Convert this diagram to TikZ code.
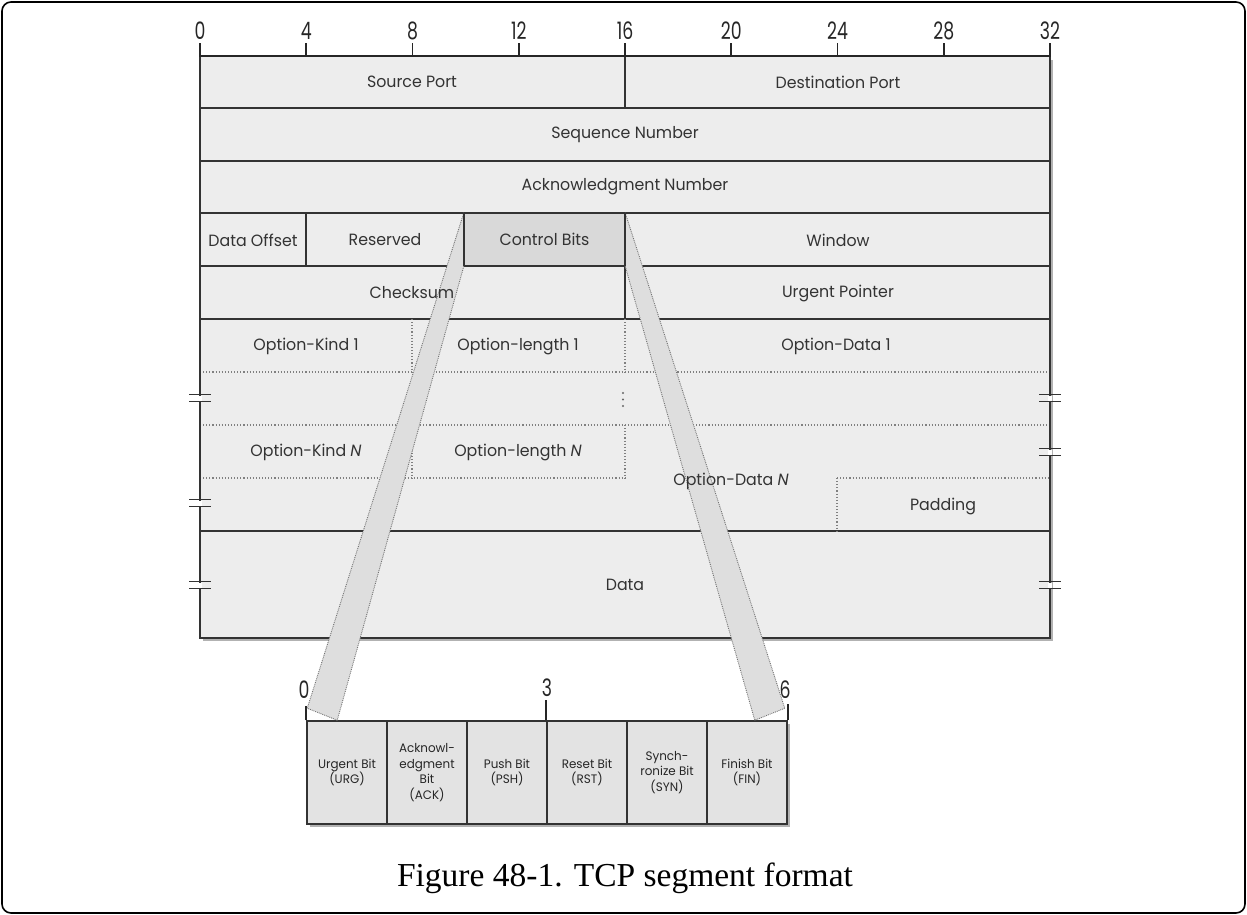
\documentclass[tikz,border=0pt]{standalone}
\usepackage{fontspec}
\setmainfont{Liberation Serif}
\newfontfamily\labf[FakeStretch=0.97]{Poppins}
\newfontfamily\numf[FakeStretch=0.72]{Poppins}
\usetikzlibrary{calc}
\begin{document}
\begin{tikzpicture}[x=1pt,y=-1pt,
  tline/.style={draw=black!80, line width=1.7pt},
  dline/.style={draw=black!50, dotted, line width=1.1pt},
  lab/.style={font=\labf\fontsize{16.3}{18}\selectfont, text=black!80, inner sep=0pt},
  num/.style={font=\numf\fontsize{24}{24}\selectfont, text=black!85, inner sep=0pt},
  small/.style={font=\labf\fontsize{12.3}{15.5}\selectfont, text=black!85, align=center, inner sep=0pt},
  band/.style={fill=black!13, draw=black!55, densely dotted, line width=0.9pt},
  bcell/.style={draw=black!80, line width=1.5pt, fill=black!11, minimum width=80pt, minimum height=103pt, inner sep=0pt},
  brk/.style={draw=black!80, line width=1.8pt},
]
\useasboundingbox (0,0) rectangle (1247,915);
\draw[line width=1.6pt, rounded corners=9pt] (2,2) rectangle (1245,913);

% ---- table background
\fill[black!30] (203,60) rectangle (1053,641);
\fill[black!7] (200,56) rectangle (1050,638);
\node[fill=black!15, minimum width=161pt, minimum height=53pt, inner sep=0pt] (cb) at (544.5,239.5) {};

% solid row lines
\foreach \y in {108,161,213,266,319,531} \draw[tline] (200,\y) -- (1050,\y);
\draw[tline] (625,56) -- (625,108);
\draw[tline] (306,213) -- (306,266);
\draw[tline] (464,213) -- (464,266);
\draw[tline] (625,213) -- (625,319);

% dotted option lines
\draw[dline] (412,319) -- (412,372);
\draw[dline] (625,319) -- (625,372);
\draw[dline] (200,372) -- (1050,372);
\draw[dline] (200,425) -- (1050,425);
\draw[dline] (412,425) -- (412,478);
\draw[dline] (625,425) -- (625,478);
\draw[dline] (200,478) -- (625,478);
\draw[dline] (837,478) -- (1050,478);
\draw[dline] (837,478) -- (837,531);
\foreach \y in {393,399.5,406} \fill[black!60] (623,\y) circle (1.2pt);

% outer border and axis
\draw[tline, line width=2pt] (200,56) rectangle (1050,638);
\draw[black!85, line width=2.4pt] (199,56) -- (1051,56);
\foreach \b in {0,4,...,32} {
  \draw[black!85, line width=1.6pt] (200+26.5625*\b,56) -- (200+26.5625*\b,43);
  \node[num] (n\b) at (200+26.5625*\b,31) {\b};
}

% break marks
\foreach \x/\y in {200/398,200/503,200/585,1050/398,1050/452,1050/585}{
  \fill[white] (\x-2,\y-2.5) rectangle (\x+2,\y+2.5);
  \draw[brk] (\x-11,\y-3.5) -- (\x+11,\y-3.5) (\x-11,\y+3.5) -- (\x+11,\y+3.5);
}

% ---- control bits expansion box
\fill[black!30] (310,724) rectangle (790,827);
\node[bcell, small] (b1) at (347,772.5) {Urgent Bit\\(URG)};
\node[bcell, small] (b2) at (427,772.5) {Acknowl-\\edgment\\Bit\\(ACK)};
\node[bcell, small] (b3) at (507,772.5) {Push Bit\\(PSH)};
\node[bcell, small] (b4) at (587,772.5) {Reset Bit\\(RST)};
\node[bcell, small] (b5) at (667,772.5) {Synch-\\ronize Bit\\(SYN)};
\node[bcell, small] (b6) at (747,772.5) {Finish Bit\\(FIN)};
\draw[black!85, line width=1.6pt] (b1.north west) -- ++(0,-14);
\draw[black!85, line width=1.6pt] (b4.north west) -- ++(0,-20);
\draw[black!85, line width=1.6pt] (b6.north east) -- ++(0,-16);
\node[num] (z0) at (304,690) {0};
\node[num] (z3) at (547,688) {3};
\node[num] (z6) at (785,690) {6};

% bands
\draw[band] (cb.north west) -- ($(b1.north west)+(1,-12)$) -- ($(b1.north west)+(31,0)$) -- (cb.south west) -- cycle;
\draw[band] (cb.north east) -- ($(b6.north east)+(-3,-12)$) -- ($(b6.north east)+(-33,0)$) -- (cb.south east) -- cycle;
\draw[tline] (cb.north west) -- (cb.south west) (cb.north east) -- (cb.south east);

% ---- labels
\node[lab] (sp) at (412,82) {Source Port};
\node[lab] (dp) at (838,82) {Destination Port};
\node[lab] (sn) at (625,135) {Sequence Number};
\node[lab] (an) at (625,187) {Acknowledgment Number};
\node[lab] (do) at (253,240) {Data Offset};
\node[lab] (rs) at (385,240) {Reserved};
\node[lab] (cbt) at (cb) {Control Bits};
\node[lab] (wn) at (838,240) {Window};
\node[lab] (cs) at (412,293) {Checksum};
\node[lab] (up) at (838,293) {Urgent Pointer};
\node[lab] (ok1) at (306,346) {Option-Kind 1};
\node[lab] (ol1) at (518,346) {Option-length 1};
\node[lab] (od1) at (836,346) {Option-Data 1};
\node[lab] (okn) at (306,452) {Option-Kind \textit{N}};
\node[lab] (oln) at (518,452) {Option-length \textit{N}};
\node[lab] (odn) at (731,481) {Option-Data \textit{N}};
\node[lab] (pd) at (943,506) {Padding};
\node[lab] (dt) at (625,585) {Data};

% caption
\node[font=\fontsize{33.5}{36}\selectfont, inner sep=0pt] (cap) at (625,878) {Figure 48-1. TCP segment format};
\end{tikzpicture}
\end{document}
